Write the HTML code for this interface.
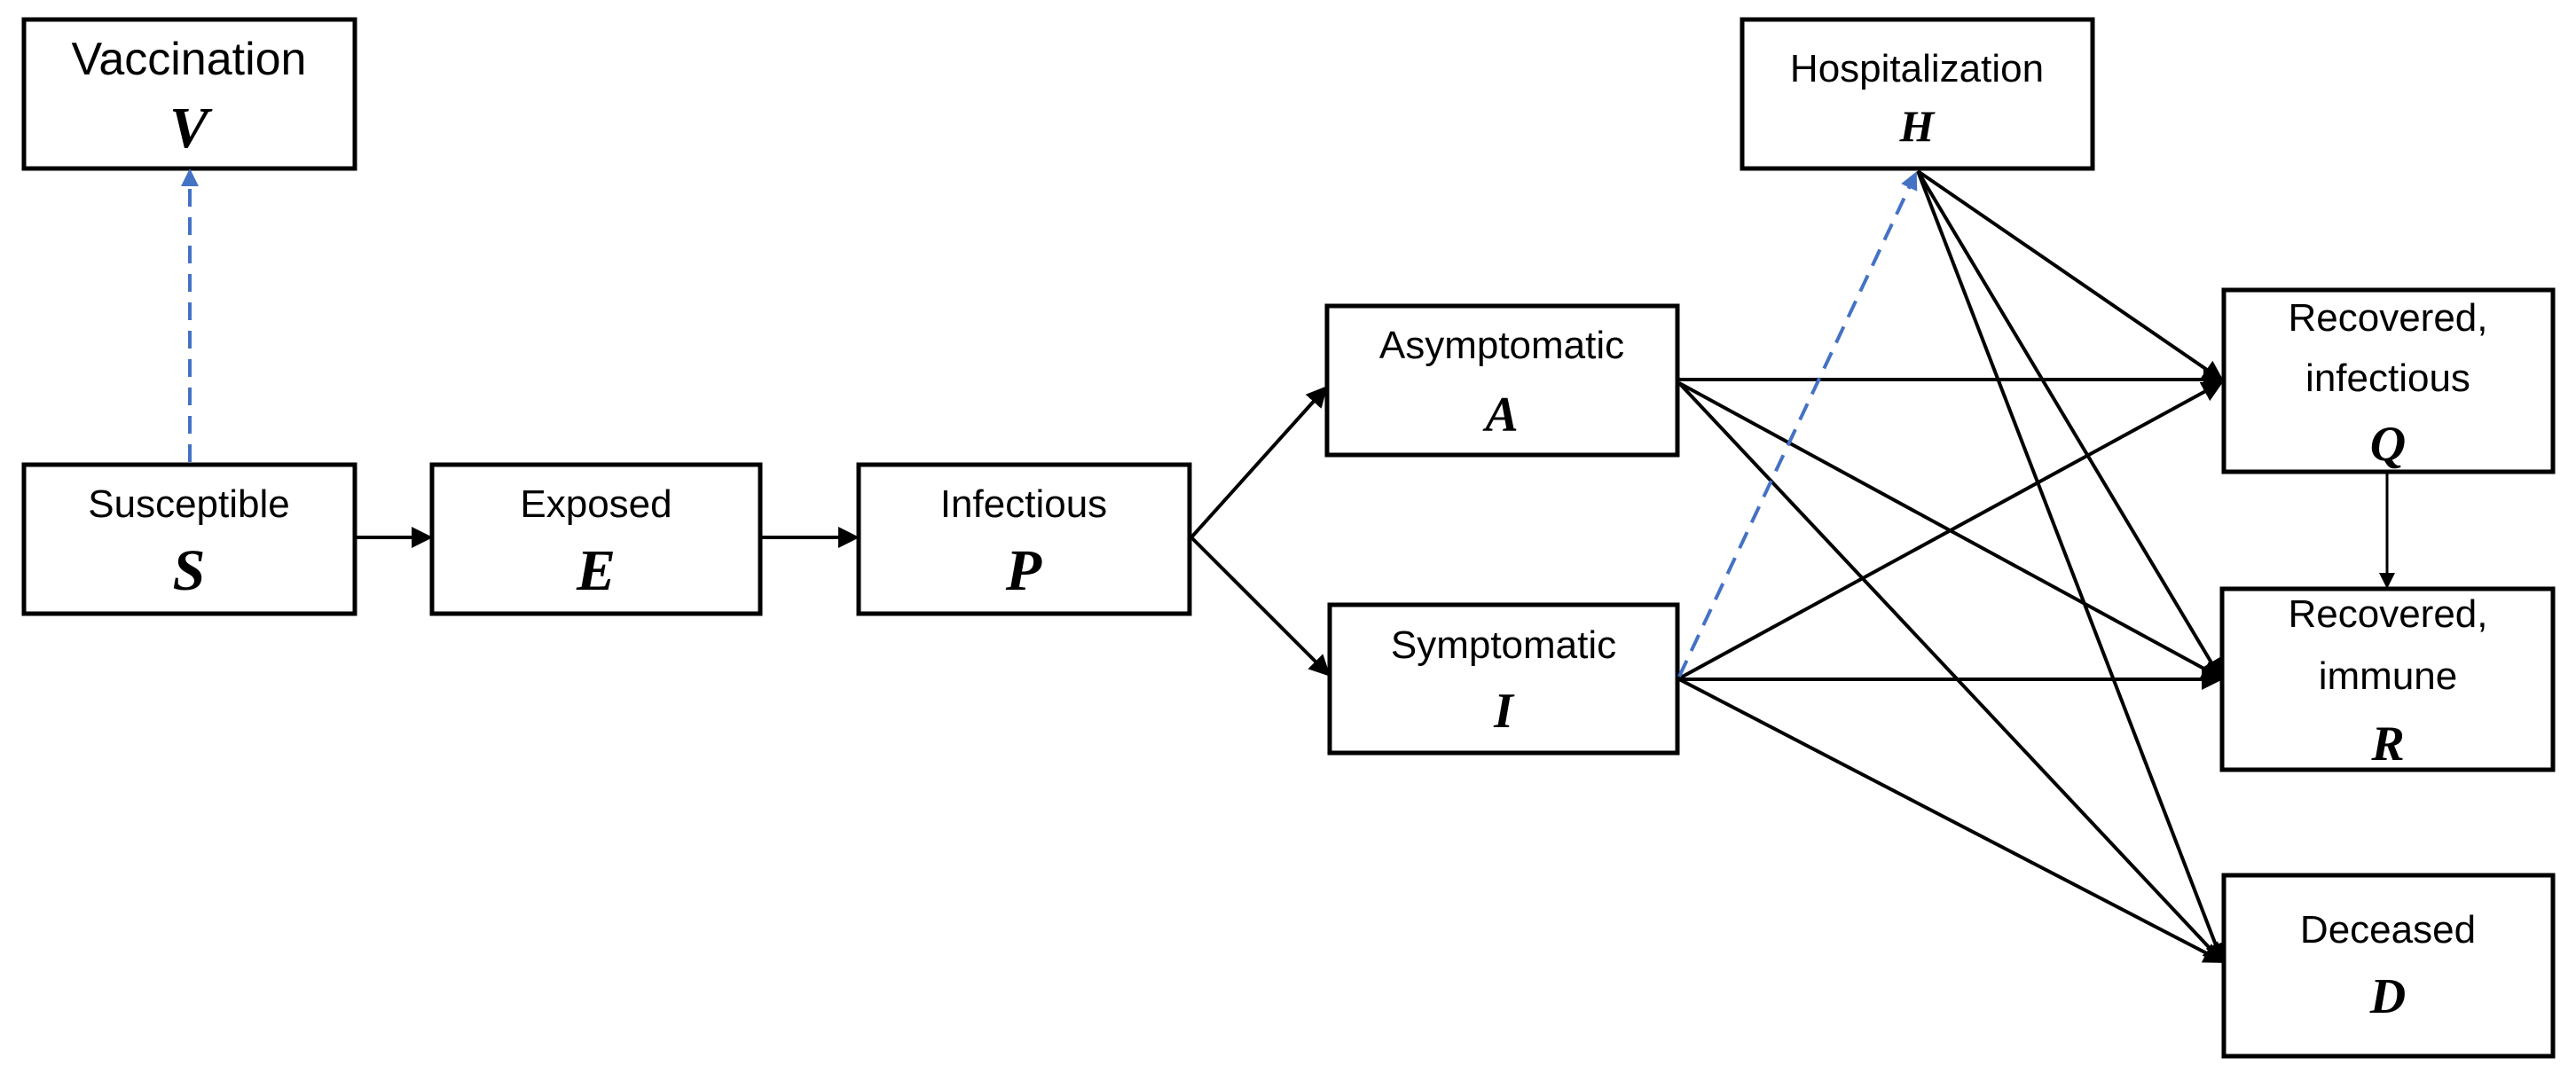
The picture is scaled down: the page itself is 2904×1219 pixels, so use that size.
<!DOCTYPE html>
<html><head><meta charset="utf-8"><style>
html,body{margin:0;padding:0;background:#fff;}
svg{display:block;}
.lb{font-family:"Liberation Sans Narrow","Liberation Sans",sans-serif;fill:#000;text-anchor:middle;}
.lt{font-family:"Liberation Serif",serif;font-style:italic;font-weight:bold;fill:#000;text-anchor:middle;}
</style></head><body>
<svg width="2904" height="1219" viewBox="0 0 2904 1219" xmlns="http://www.w3.org/2000/svg">
<defs>
<marker id="ar" markerWidth="6" markerHeight="6" refX="5" refY="3" orient="auto" markerUnits="strokeWidth"><path d="M0,0 L6,3 L0,6 z" fill="#000"/></marker>
<marker id="ab" markerWidth="5" markerHeight="5" refX="4" refY="2.5" orient="auto" markerUnits="strokeWidth"><path d="M0,0 L5,2.5 L0,5 z" fill="#4472c4"/></marker>
</defs>
<g fill="#fff" stroke="#000" stroke-width="5">
<rect x="27" y="22" width="373" height="168"/>
<rect x="27" y="524" width="373" height="168"/>
<rect x="487" y="524" width="370" height="168"/>
<rect x="968" y="524" width="373" height="168"/>
<rect x="1964" y="22" width="395" height="168"/>
<rect x="1496" y="345" width="395" height="168"/>
<rect x="1499" y="682" width="392" height="167"/>
<rect x="2507" y="327" width="371" height="205"/>
<rect x="2505" y="664" width="373" height="204"/>
<rect x="2507" y="987" width="371" height="204"/>
</g>
<g stroke="#000" stroke-width="4" fill="none" marker-end="url(#ar)">
<line x1="402" y1="606" x2="484" y2="606"/>
<line x1="859" y1="606" x2="965" y2="606"/>
<line x1="1343" y1="606" x2="1494" y2="438"/>
<line x1="1343" y1="606" x2="1497" y2="760"/>
<line x1="1893" y1="428" x2="2504" y2="428"/>
<line x1="1893" y1="432" x2="2503" y2="764"/>
<line x1="1893" y1="432" x2="2505" y2="1084"/>
<line x1="1893" y1="765" x2="2503" y2="432"/>
<line x1="1893" y1="766" x2="2502" y2="766"/>
<line x1="1893" y1="766" x2="2505" y2="1084"/>
<line x1="2162" y1="193" x2="2504" y2="428"/>
<line x1="2162" y1="193" x2="2503" y2="764"/>
<line x1="2162" y1="193" x2="2505" y2="1084"/>
<line x1="2691" y1="534" x2="2691" y2="661" stroke-width="3"/>
</g>
<g stroke="#4472c4" stroke-width="4" fill="none" stroke-dasharray="20,12" marker-end="url(#ab)">
<line x1="214" y1="521" x2="214" y2="194"/>
<line x1="1893" y1="763" x2="2159" y2="197"/>
</g>
<text class="lb" x="213" y="84" font-size="52">Vaccination</text>
<text class="lt" x="213" y="166" font-size="66">V</text>
<text class="lb" x="213" y="583" font-size="44">Susceptible</text>
<text class="lt" x="213" y="665" font-size="66">S</text>
<text class="lb" x="672" y="583" font-size="44">Exposed</text>
<text class="lt" x="672" y="665" font-size="66">E</text>
<text class="lb" x="1154" y="583" font-size="44">Infectious</text>
<text class="lt" x="1154" y="665" font-size="66">P</text>
<text class="lb" x="2161" y="92" font-size="44">Hospitalization</text>
<text class="lt" x="2161" y="159" font-size="50">H</text>
<text class="lb" x="1693" y="404" font-size="44">Asymptomatic</text>
<text class="lt" x="1693" y="486" font-size="56">A</text>
<text class="lb" x="1695" y="742" font-size="44">Symptomatic</text>
<text class="lt" x="1695" y="820" font-size="56">I</text>
<text class="lb" x="2692" y="373" font-size="44">Recovered,</text>
<text class="lb" x="2692" y="441" font-size="44">infectious</text>
<text class="lt" x="2692" y="519" font-size="56">Q</text>
<text class="lb" x="2692" y="707" font-size="44">Recovered,</text>
<text class="lb" x="2692" y="777" font-size="44">immune</text>
<text class="lt" x="2692" y="857" font-size="56">R</text>
<text class="lb" x="2692" y="1063" font-size="44">Deceased</text>
<text class="lt" x="2692" y="1142" font-size="56">D</text>
</svg>
</body></html>
